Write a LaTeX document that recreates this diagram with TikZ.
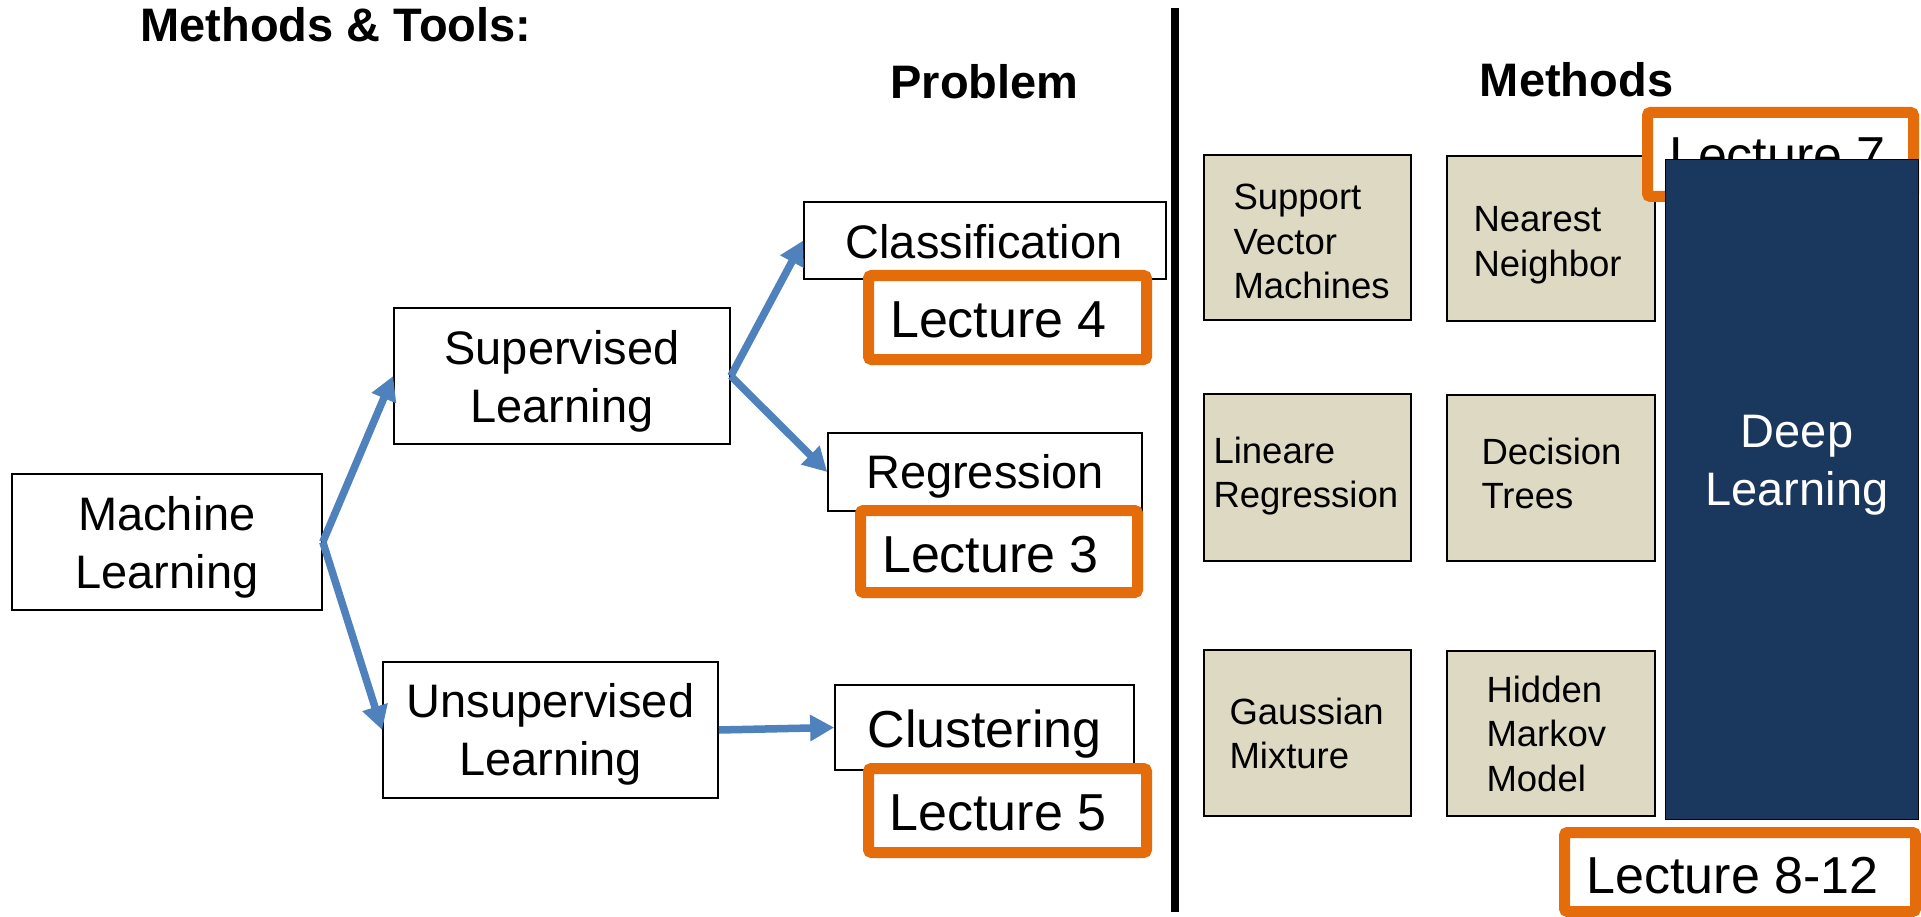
\documentclass[tikz,border=0pt]{standalone}
\usepackage{fontspec}
\setmainfont{Liberation Sans}
\usetikzlibrary{arrows.meta}

\definecolor{flowblue}{HTML}{4F81BD}
\definecolor{lectorange}{HTML}{E46C0A}
\definecolor{methodtan}{HTML}{DDD9C3}
\definecolor{deepnavy}{HTML}{1A375E}

% Text block whose first baseline sits #2 above the box centre,
% centred #1 right of it (ctext) or starting #1 right of it (ltext).
\newcommand\ctext[3]{\raisebox{#2}[0pt][0pt]{\makebox[0pt][c]{\hspace*{#1}\hspace*{#1}\begin{tabular}[t]{@{}c@{}}#3\end{tabular}}}}
\newcommand\ltext[3]{\raisebox{#2}[0pt][0pt]{\makebox[0pt][l]{\hspace*{#1}\begin{tabular}[t]{@{}l@{}}#3\end{tabular}}}}

\tikzset{
  head/.style={font=\fontsize{47}{56}\selectfont\bfseries, inner sep=0pt, anchor=base},
  topic/.style={draw=black, line width=1.6pt, fill=white, inner sep=0pt,
                font=\fontsize{47}{58}\selectfont},
  lecture/.style={draw=lectorange, line width=11pt, rounded corners=3pt, fill=white,
                  inner sep=0pt, font=\fontsize{52}{62}\selectfont},
  method/.style={draw=black, line width=1.8pt, fill=methodtan, inner sep=0pt,
                 font=\fontsize{36.5}{44.5}\selectfont},
  deepbox/.style={draw=black, line width=1pt, fill=deepnavy, text=white, inner sep=0pt,
                  font=\fontsize{47}{58}\selectfont},
  flow/.style={draw=flowblue, line width=7.5pt,
               -{Triangle[length=24pt,width=25pt]}},
}

\begin{document}
\begin{tikzpicture}[x=1pt,y=-1pt]
\useasboundingbox[fill=white] (0,0) rectangle (1921,917);

% headings
\node[head] (hdtools) at (336,42) {Methods \& Tools:};
\node[head] (hdprob) at (984.5,99) {Problem};
\node[head] (hdmeth) at (1576.5,97) {Methods};

% divider between problems and methods
\draw[line width=8pt] (1174.5,8) -- (1174.5,912);

% learning paradigms
\node[topic, minimum width=310pt, minimum height=136pt] (ml) at (167,542)
  {\ctext{0pt}{12pt}{Machine\\Learning}};
\node[topic, minimum width=336pt, minimum height=136pt] (sup) at (562,376)
  {\ctext{0pt}{12pt}{Supervised\\Learning}};
\node[topic, minimum width=335pt, minimum height=136pt] (unsup) at (550.5,730)
  {\ctext{0pt}{13pt}{Unsupervised\\Learning}};

% problem types with their lectures
\node[topic, minimum width=362pt, minimum height=77pt] (cls) at (985,240.5)
  {\ctext{-1pt}{-17.5pt}{Classification}};
\node[lecture, minimum width=278pt, minimum height=84pt] (lec4) at (1007.5,317.5)
  {\ctext{-9pt}{-19.5pt}{Lecture 4}};

\node[topic, minimum width=314pt, minimum height=78pt] (reg) at (985,472)
  {\ctext{0pt}{-16pt}{Regression}};
\node[lecture, minimum width=277pt, minimum height=82pt] (lec3) at (999,551.5)
  {\ctext{-8.5pt}{-20.5pt}{Lecture 3}};

\node[topic, minimum width=299pt, minimum height=85pt,
      font=\fontsize{52}{62}\selectfont] (clu) at (984.5,727.5)
  {\ctext{0pt}{-19.5pt}{Clustering}};
\node[lecture, minimum width=278pt, minimum height=84pt] (lec5) at (1007.5,810.5)
  {\ctext{-9.5pt}{-19.5pt}{Lecture 5}};

% methods
\node[method, minimum width=207pt, minimum height=165pt] (svm) at (1307.5,237.5)
  {\ltext{-74pt}{27.5pt}{Support\\Vector\\Machines}};
\node[method, minimum width=208pt, minimum height=165pt] (nn) at (1551,238.5)
  {\ltext{-77.5pt}{6.5pt}{Nearest\\Neighbor}};
\node[method, minimum width=207pt, minimum height=167pt] (lin) at (1307.5,477.5)
  {\ltext{-94pt}{14.5pt}{Lineare\\Regression}};
\node[method, minimum width=208pt, minimum height=166pt] (dt) at (1551,478)
  {\ltext{-69.5pt}{14pt}{Decision\\Trees}};
\node[method, minimum width=207pt, minimum height=166pt] (gm) at (1307.5,733)
  {\ltext{-78pt}{9pt}{Gaussian\\Mixture}};
\node[method, minimum width=208pt, minimum height=165pt] (hmm) at (1551,733.5)
  {\ltext{-64.5pt}{31.5pt}{Hidden\\Markov\\Model}};

\node[lecture, minimum width=266pt, minimum height=84pt] (lec7) at (1780.5,154.5)
  {\ctext{-3pt}{-19.5pt}{Lecture 7}};
\node[deepbox, minimum width=253pt, minimum height=659pt] (deep) at (1791.5,489.5)
  {\ctext{5.5pt}{42.5pt}{Deep\\Learning}};
\node[lecture, minimum width=351pt, minimum height=79pt] (lec812) at (1740,872)
  {\ctext{-7.5pt}{-21pt}{Lecture 8-12}};

% connectors
\draw[flow] (ml.east) -- (sup.west);
\draw[flow] (ml.east) -- (unsup.west);
\draw[flow] (sup.east) -- (cls.west);
\draw[flow] (sup.east) -- (reg.west);
\draw[flow] (unsup.east) -- (clu.west);
\end{tikzpicture}
\end{document}
